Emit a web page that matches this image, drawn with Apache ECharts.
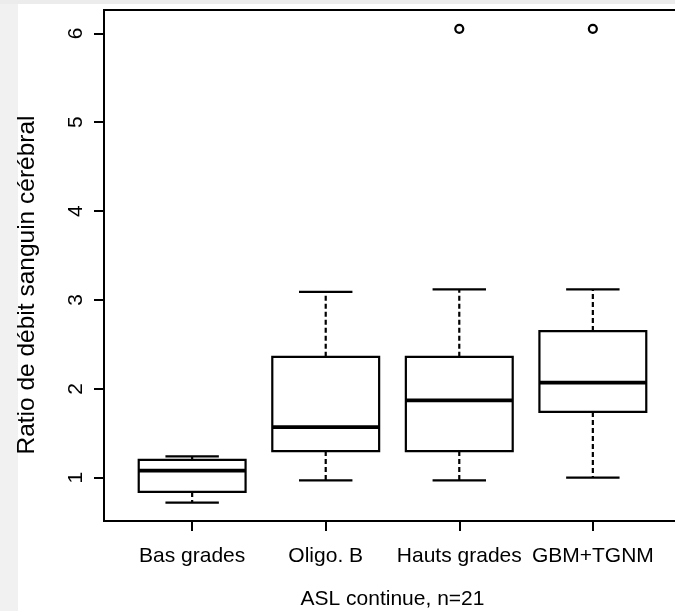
<!DOCTYPE html>
<html>
<head>
<meta charset="utf-8">
<script src="https://cdn.jsdelivr.net/npm/echarts@6/dist/echarts.min.js"></script>
<style>
  html, body { margin: 0; padding: 0; background: #fff; }
  #chart { width: 675px; height: 611px; }
</style>
</head>
<body>
<div id="chart"></div>
<script>
// groups on the x axis
const categories = ['Bas grades', 'Oligo. B', 'Hauts grades', 'GBM+TGNM'];
// box stats per group: [min, Q1, median, Q3, max]
const basGrades   = [0.72, 0.84, 1.08, 1.20, 1.24];
const oligoB      = [0.97, 1.30, 1.57, 2.36, 3.09];
const hautsGrades = [0.97, 1.30, 1.87, 2.36, 3.12];
const gbmTgnm     = [1.00, 1.74, 2.07, 2.65, 3.12];
// outliers: [group position, value]
const outliers = [[3, 6.05], [4, 6.05]];
const yTicks = [1, 2, 3, 4, 5, 6];
const xTicks = [1, 2, 3, 4];

const stats = [basGrades, oligoB, hautsGrades, gbmTgnm];
const boxData = stats.map((s, i) => [i + 1].concat(s));

const font = 'Liberation Sans, Arial, Helvetica, sans-serif';

const chart = echarts.init(document.getElementById('chart'), null, { renderer: 'canvas' });

function renderBox(params, api) {
  const x = api.value(0);
  const lo = api.coord([x, api.value(1)]);
  const q1 = api.coord([x, api.value(2)]);
  const med = api.coord([x, api.value(3)]);
  const q3 = api.coord([x, api.value(4)]);
  const hi = api.coord([x, api.value(5)]);
  const hw = api.size([0.8, 0])[0] / 2;
  const sw = hw / 2;
  const cx = q1[0];
  const stroke = { stroke: '#000', fill: null, lineWidth: 2.2 };
  return {
    type: 'group',
    children: [
      { type: 'line', shape: { x1: cx, y1: q3[1], x2: cx, y2: hi[1] },
        style: Object.assign({}, stroke, { lineDash: [5, 3] }) },
      { type: 'line', shape: { x1: cx, y1: q1[1], x2: cx, y2: lo[1] },
        style: Object.assign({}, stroke, { lineDash: [5, 3] }) },
      { type: 'line', shape: { x1: cx - sw, y1: hi[1], x2: cx + sw, y2: hi[1] }, style: stroke },
      { type: 'line', shape: { x1: cx - sw, y1: lo[1], x2: cx + sw, y2: lo[1] }, style: stroke },
      { type: 'rect', shape: { x: cx - hw, y: q3[1], width: hw * 2, height: q1[1] - q3[1] },
        style: Object.assign({}, stroke, { fill: '#fff' }) },
      { type: 'line', shape: { x1: cx - hw, y1: med[1], x2: cx + hw, y2: med[1] },
        style: { stroke: '#000', lineWidth: 3.8 } }
    ]
  };
}

chart.setOption({
  animation: false,
  backgroundColor: '#fff',
  graphic: [
    { type: 'rect', left: 0, top: 0, shape: { width: 18, height: 611 }, style: { fill: '#f1f1f1' }, z: -1 },
    { type: 'rect', left: 0, top: 0, shape: { width: 675, height: 4 }, style: { fill: '#ececec' }, z: -1 }
  ],
  grid: {
    left: 104, top: 10, width: 577, height: 511,
    outerBoundsMode: 'none', containLabel: false,
    show: true, borderColor: '#000', borderWidth: 2, backgroundColor: 'transparent'
  },
  xAxis: {
    type: 'value', min: 0.34, max: 4.66,
    name: 'ASL continue, n=21', nameLocation: 'middle', nameGap: 68,
    nameTextStyle: { fontFamily: font, fontSize: 21, color: '#000' },
    axisLine: { show: false },
    splitLine: { show: false },
    axisTick: { show: true, customValues: xTicks, length: 10, lineStyle: { color: '#000', width: 2 } },
    axisLabel: {
      customValues: xTicks, margin: 25,
      formatter: v => categories[Math.round(v) - 1] || '',
      fontFamily: font, fontSize: 21, color: '#000'
    }
  },
  yAxis: {
    type: 'value', min: 0.513, max: 6.262,
    name: 'Ratio de débit sanguin cérébral', nameLocation: 'middle', nameGap: 64,
    nameTextStyle: { fontFamily: font, fontSize: 24.5, color: '#000', padding: [0, 39, 0, 0] },
    axisLine: { show: false },
    splitLine: { show: false },
    axisTick: { show: true, customValues: yTicks, length: 10, lineStyle: { color: '#000', width: 2 } },
    axisLabel: {
      customValues: yTicks, rotate: 90, margin: 17,
      fontFamily: font, fontSize: 21, color: '#000'
    }
  },
  series: [
    {
      type: 'custom',
      renderItem: renderBox,
      encode: { x: 0, y: [1, 2, 3, 4, 5] },
      data: boxData
    },
    {
      type: 'scatter',
      symbol: 'circle', symbolSize: 8,
      itemStyle: { color: '#fff', borderColor: '#000', borderWidth: 2.2, opacity: 1 },
      data: outliers
    }
  ]
});
</script>
</body>
</html>
